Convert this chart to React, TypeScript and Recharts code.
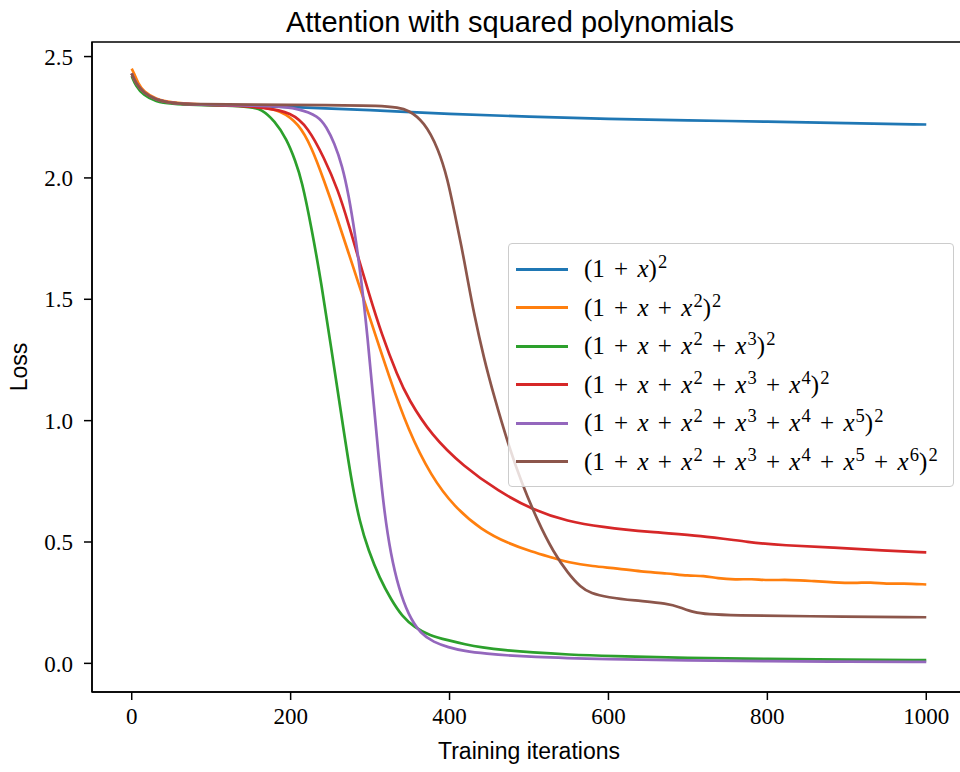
import React from "react";
import { LineChart, Line, XAxis, YAxis, Legend, Label, ReferenceArea } from "recharts";

// loss curves: [iteration, loss]
const quadLoss: [number, number][] = [
  [0, 2.43], [5, 2.39], [15, 2.35], [30, 2.322], [50, 2.308], [80, 2.302], [120, 2.299],
  [200, 2.293], [300, 2.28], [400, 2.263], [500, 2.252], [600, 2.243], [700, 2.237],
  [800, 2.232], [900, 2.226], [1000, 2.22],
];

const deg2Loss: [number, number][] = [
  [0, 2.45], [3, 2.43], [8, 2.39], [15, 2.355], [30, 2.325], [50, 2.31], [80, 2.303], [120, 2.3],
  [160, 2.295], [188, 2.278], [210, 2.224], [226, 2.13], [242, 1.99], [258, 1.84],
  [273, 1.69], [285, 1.57], [302, 1.4], [323, 1.19], [348, 0.96], [377, 0.77],
  [406, 0.645], [440, 0.55], [474, 0.494], [503, 0.461], [530, 0.435],
  [549, 0.416], [580, 0.4], [612, 0.391], [640, 0.378], [675, 0.371], [700, 0.36],
  [720, 0.362], [737, 0.35], [760, 0.345], [780, 0.348], [800, 0.342], [830, 0.345],
  [860, 0.338], [883, 0.334], [910, 0.33], [930, 0.335], [950, 0.327], [970, 0.33],
  [1000, 0.325],
];

const deg3Loss: [number, number][] = [
  [0, 2.42], [5, 2.38], [15, 2.34], [30, 2.315], [50, 2.305], [80, 2.3], [120, 2.298],
  [150, 2.292], [163, 2.284], [180, 2.235], [195, 2.16], [206, 2.07], [214, 1.99],
  [226, 1.8], [239, 1.56], [251, 1.3], [264, 1.02], [276, 0.76], [287, 0.58], [298, 0.465],
  [312, 0.35], [327, 0.26], [340, 0.195], [356, 0.148], [375, 0.115], [398, 0.095],
  [420, 0.078], [440, 0.066], [470, 0.054], [503, 0.045], [550, 0.036], [600, 0.03],
  [700, 0.022], [800, 0.018], [900, 0.015], [1000, 0.013],
];

const deg4Loss: [number, number][] = [
  [0, 2.43], [5, 2.39], [15, 2.35], [30, 2.322], [50, 2.308], [80, 2.302], [120, 2.3],
  [167, 2.29], [201, 2.27], [222, 2.208], [242, 2.084], [260, 1.948], [273, 1.81],
  [285, 1.672], [298, 1.53], [314, 1.36], [335, 1.18], [348, 1.09], [377, 0.94],
  [418, 0.81], [461, 0.71], [506, 0.63], [549, 0.585], [590, 0.562],
  [653, 0.54], [716, 0.527], [779, 0.498], [820, 0.486], [883, 0.478], [946, 0.465],
  [1000, 0.457],
];

const deg5Loss: [number, number][] = [
  [0, 2.43], [5, 2.39], [15, 2.35], [30, 2.322], [50, 2.308], [80, 2.302], [120, 2.3],
  [180, 2.297], [210, 2.286], [235, 2.255], [245, 2.21], [255, 2.145], [265, 2.05],
  [273, 1.93], [281, 1.77], [289, 1.58], [297, 1.34], [304, 1.09], [311, 0.84],
  [318, 0.62], [326, 0.45], [336, 0.31], [348, 0.2], [364, 0.12], [380, 0.088],
  [398, 0.066], [420, 0.05], [440, 0.041], [503, 0.025], [600, 0.017], [700, 0.012],
  [800, 0.009], [900, 0.007], [1000, 0.006],
];

const deg6Loss: [number, number][] = [
  [0, 2.43], [5, 2.39], [15, 2.35], [30, 2.322], [50, 2.308], [80, 2.303], [150, 2.302],
  [250, 2.3], [314, 2.298], [335, 2.29], [348, 2.28], [368, 2.232], [386, 2.12],
  [398, 1.99], [406, 1.86], [415, 1.72], [423, 1.577], [431, 1.437], [443, 1.26],
  [456, 1.1], [474, 0.9], [490, 0.75], [511, 0.585], [531, 0.457], [549, 0.371],
  [565, 0.313], [578, 0.288], [599, 0.272], [632, 0.259], [675, 0.247], [691, 0.23],
  [707, 0.21], [725, 0.202], [758, 0.198], [842, 0.194], [1000, 0.19],
];

const degrees = [1, 2, 3, 4, 5, 6];
const colors = ["#1f77b4", "#ff7f0e", "#2ca02c", "#d62728", "#9467bd", "#8c564b"];
const curves = [quadLoss, deg2Loss, deg3Loss, deg4Loss, deg5Loss, deg6Loss];

const xTicks = [0, 200, 400, 600, 800, 1000];
const yTicks = [0, 0.5, 1, 1.5, 2, 2.5];

const series = curves.map((pts, i) => ({
  degree: degrees[i],
  color: colors[i],
  data: pts.map(([it, loss]) => ({ it, loss })),
}));

const serif = "'Liberation Serif', 'DejaVu Serif', serif";
const sans = "'Liberation Sans', Arial, sans-serif";

const supStyle: React.CSSProperties = { fontSize: "0.74em", position: "relative", top: "-0.5em", marginLeft: "0.06em" };
const plusStyle: React.CSSProperties = { margin: "0 0.37em" };

function PolyLabel({ degree }: { degree: number }) {
  const terms: React.ReactNode[] = [<span key="one">1</span>];
  for (let k = 1; k <= degree; k++) {
    terms.push(<span key={"p" + k} style={plusStyle}>+</span>);
    terms.push(
      <span key={"x" + k}>
        <i>x</i>
        {k > 1 && <span style={supStyle}>{k}</span>}
      </span>
    );
  }
  return (
    <span style={{ fontFamily: serif, fontSize: 25, color: "#000", whiteSpace: "nowrap" }}>
      ({terms})<span style={supStyle}>2</span>
    </span>
  );
}

const renderLegend = () => (
  <div
    style={{
      boxSizing: "border-box",
      width: 446,
      height: 244,
      padding: "6px 0",
      background: "rgba(255,255,255,0.8)",
      border: "1px solid #cccccc",
      borderRadius: 4,
    }}
  >
    {series.map((s) => (
      <div key={s.degree} style={{ height: 38.5, display: "flex", alignItems: "center" }}>
        <div style={{ marginLeft: 7, width: 52, height: 3, background: s.color }} />
        <div style={{ marginLeft: 16 }}>
          <PolyLabel degree={s.degree} />
        </div>
      </div>
    ))}
  </div>
);

const YTitle = (props: any) => {
  const vb = props.viewBox;
  const cy = vb.y + vb.height / 2;
  return (
    <text x={27} y={cy} transform={`rotate(-90, 27, ${cy})`} textAnchor="middle"
      fontFamily={sans} fontSize={23} fill="#000">
      Loss
    </text>
  );
};

export default function App() {
  return (
    <div style={{ position: "absolute", left: 0, top: 0, width: 960, height: 772, overflow: "hidden", background: "#fff" }}>
      <div
        style={{
          position: "absolute", left: 0, width: 1020, top: 5,
          textAlign: "center", fontFamily: sans, fontSize: 29, color: "#000", lineHeight: "34px",
        }}
      >
        Attention with squared polynomials
      </div>
      <LineChart width={985} height={772} margin={{ top: 42, right: 19, bottom: 0, left: 0 }}>
        <XAxis
          type="number"
          dataKey="it"
          domain={[-50, 1050]}
          allowDataOverflow
          ticks={xTicks}
          height={80}
          tickSize={8}
          tickMargin={8}
          axisLine={{ stroke: "#000", strokeWidth: 1.5 }}
          tickLine={{ stroke: "#000", strokeWidth: 1.5 }}
          tick={{ fill: "#000", fontFamily: serif, fontSize: 23 }}
        >
          <Label value="Training iterations" position="insideBottom" offset={13}
            style={{ fontFamily: sans, fontSize: 23, fill: "#000" }} />
        </XAxis>
        <YAxis
          type="number"
          dataKey="loss"
          domain={[-0.118, 2.56]}
          allowDataOverflow
          ticks={yTicks}
          width={92}
          tickSize={8}
          tickMargin={11}
          tickFormatter={(v: number) => v.toFixed(1)}
          axisLine={{ stroke: "#000", strokeWidth: 1.5 }}
          tickLine={{ stroke: "#000", strokeWidth: 1.5 }}
          tick={{ fill: "#000", fontFamily: serif, fontSize: 23 }}
        >
          <Label content={YTitle} />
        </YAxis>
        <ReferenceArea x1={-50} x2={1050} y1={-0.118} y2={2.56} fill="none" stroke="#000" strokeWidth={1.5} ifOverflow="visible" />
        {series.map((s) => (
          <Line
            key={s.degree}
            data={s.data}
            dataKey="loss"
            name={`deg ${s.degree}`}
            type="basis"
            stroke={s.color}
            strokeWidth={2.7}
            dot={false}
            activeDot={false}
            isAnimationActive={false}
          />
        ))}
        <Legend
          layout="vertical"
          align="center"
          verticalAlign="middle"
          content={renderLegend}
          wrapperStyle={{ left: 508, top: 243, width: 446, height: 244 }}
        />
      </LineChart>
    </div>
  );
}
